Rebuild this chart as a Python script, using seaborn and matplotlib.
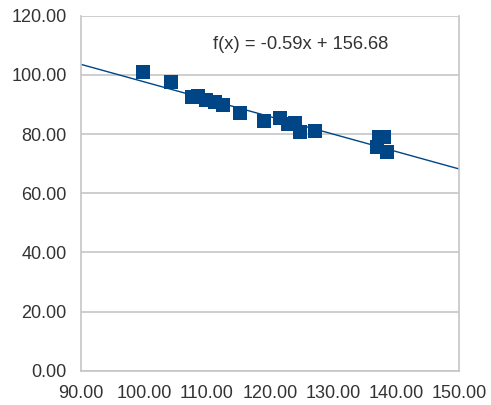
import numpy as np
import pandas as pd
import matplotlib
matplotlib.use('Agg')
import matplotlib.pyplot as plt
import seaborn as sns

# values
x_vals = [99.9, 104.3, 107.6, 108.6, 109.9, 111.3, 112.5, 115.3, 119.1, 121.6,
          122.9, 124.0, 124.8, 127.1, 137.3, 138.1, 136.9, 138.6]
y_vals = [101.0, 97.5, 92.6, 93.0, 91.5, 91.0, 89.8, 87.2, 84.5, 85.3,
          83.4, 83.8, 80.8, 81.1, 79.0, 79.0, 75.7, 74.0]

# trend line as printed on the chart
slope = -0.59
intercept = 156.68
eq_label = 'f(x) = -0.59x + 156.68'

x_ticks = [90, 100, 110, 120, 130, 140, 150]
y_ticks = [0, 20, 40, 60, 80, 100, 120]

df = pd.DataFrame({'x': x_vals, 'y': y_vals})

sns.set_style('white')
plt.rcParams['font.family'] = ['Liberation Sans', 'DejaVu Sans']

fig = plt.figure(figsize=(4.91, 4.05), dpi=100)
ax = fig.add_axes([0.1644, 0.0847, 0.9354 - 0.1644, 0.9612 - 0.0847])

blue = '#004586'
grey = '#c6c6c6'

# trend line over the whole x range
line_x = np.array([x_ticks[0], x_ticks[-1]], dtype=float)
trend = pd.DataFrame({'x': line_x, 'y': slope * line_x + intercept})
sns.lineplot(data=trend, x='x', y='y', color=blue, linewidth=1.0, ax=ax, zorder=2)

sns.scatterplot(data=df, x='x', y='y', marker='s', s=105, color=blue,
                edgecolor=blue, linewidth=0, ax=ax, zorder=3)

ax.text(124.9, 110.2, eq_label, ha='center', va='center', fontsize=13.2, color='#333333')

ax.set_xlim(x_ticks[0], x_ticks[-1])
ax.set_ylim(y_ticks[0], y_ticks[-1])
ax.set_xticks(x_ticks)
ax.set_yticks(y_ticks)
ax.set_xticklabels([f'{v:.2f}' for v in x_ticks])
ax.set_yticklabels([f'{v:.2f}' for v in y_ticks])
ax.set_xlabel('')
ax.set_ylabel('')

ax.yaxis.grid(True, color=grey, linewidth=1.2)
ax.xaxis.grid(False)
ax.set_axisbelow(True)
for side in ['left', 'bottom', 'right']:
    ax.spines[side].set_color(grey)
    ax.spines[side].set_linewidth(1.2)
ax.spines['top'].set_visible(False)

ax.tick_params(axis='both', direction='out', length=8, width=1.2, color=grey,
               labelsize=13, labelcolor='#333333', pad=2)

fig.savefig('out.png', dpi=100)
